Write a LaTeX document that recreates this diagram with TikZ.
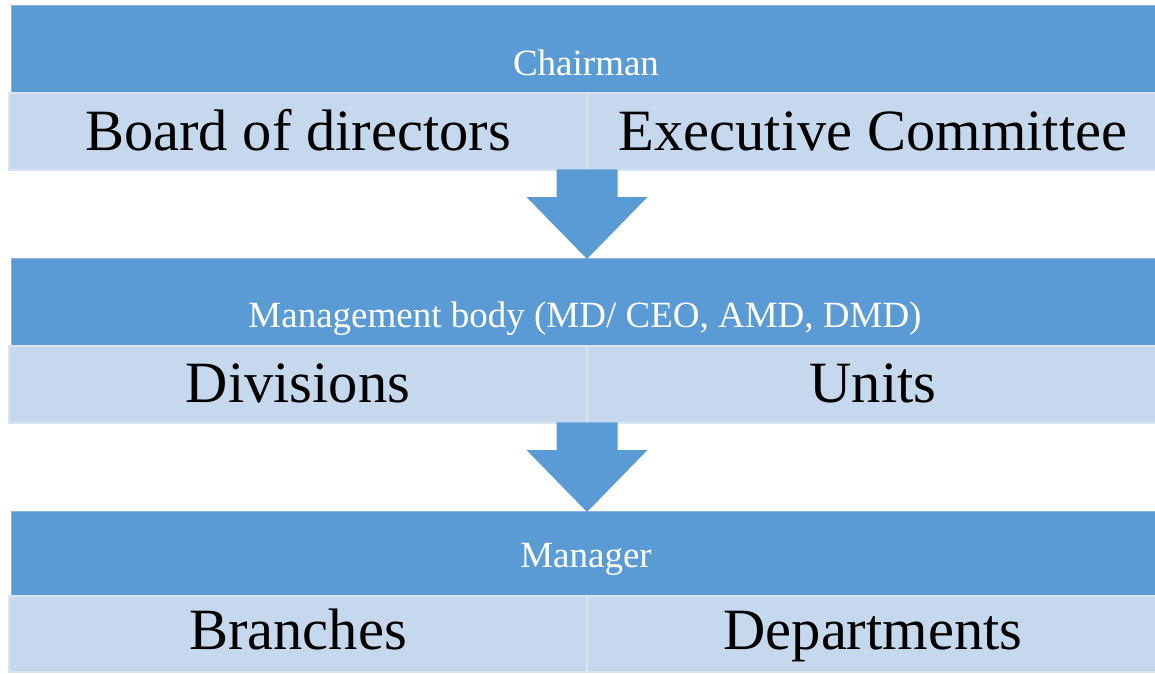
\documentclass[tikz,border=0pt]{standalone}
\usepackage{fontspec}
\setmainfont{Liberation Serif}
\definecolor{bandblue}{HTML}{5B9BD5}
\definecolor{cellblue}{HTML}{C5D8ED}
\definecolor{celledge}{HTML}{D9E4F2}
\begin{document}
\begin{tikzpicture}[x=1pt,y=-1pt,
  band/.style={fill=bandblue,draw=bandblue!75!white,line width=0.8pt},
  cell/.style={fill=cellblue,draw=celledge,line width=1.5pt},
  bandtext/.style={anchor=base,text=white,font=\fontsize{37}{42}\selectfont,inner sep=0pt},
  celltext/.style={anchor=base,text=black,font=\fontsize{58.5}{64}\selectfont,inner sep=0pt},
  blockarrow/.style={fill=bandblue}]
\useasboundingbox (0,0) rectangle (1155,673);

% level 1
\path[band] (11,5) rectangle (1160,93);
\path[cell] (9,93) rectangle (587,170);
\path[cell] (587,93) rectangle (1160,170);
\coordinate (c1) at (587,170);
\node[bandtext] (chair) at (586,75) {Chairman};
\node[celltext] (board) at (298,150) {Board of directors};
\node[celltext] (exec) at (873,150) {Executive Committee};

% level 2
\path[band] (11,258) rectangle (1160,346);
\coordinate (t2) at (587,258);
\path[cell] (9,346) rectangle (587,423);
\path[cell] (587,346) rectangle (1160,423);
\coordinate (c2) at (587,423);
\node[bandtext] (mgmt) at (585,327) {Management body (MD/ CEO, AMD, DMD)};
\node[celltext] (div) at (298,402) {Divisions};
\node[celltext] (units) at (873,402) {Units};

% level 3
\path[band] (11,511) rectangle (1160,596);
\coordinate (t3) at (587,511);
\path[cell] (9,596) rectangle (587,672);
\path[cell] (587,596) rectangle (1160,672);
\node[bandtext] (mgr) at (586,567) {Manager};
\node[celltext] (branch) at (298,649) {Branches};
\node[celltext] (dept) at (873,649) {Departments};

% block arrows between the levels
\fill[blockarrow] ([xshift=-30.5pt,yshift=0.7pt]c1) -- ([xshift=30.5pt,yshift=0.7pt]c1)
  -- ([xshift=30.5pt,yshift=-27pt]c1) -- ([xshift=60.5pt,yshift=-27pt]c1)
  -- ([yshift=-1pt]t2) -- ([xshift=-60.5pt,yshift=-27pt]c1)
  -- ([xshift=-30.5pt,yshift=-27pt]c1) -- cycle;
\fill[blockarrow] ([xshift=-30.5pt,yshift=0.7pt]c2) -- ([xshift=30.5pt,yshift=0.7pt]c2)
  -- ([xshift=30.5pt,yshift=-27pt]c2) -- ([xshift=60.5pt,yshift=-27pt]c2)
  -- ([yshift=-1pt]t3) -- ([xshift=-60.5pt,yshift=-27pt]c2)
  -- ([xshift=-30.5pt,yshift=-27pt]c2) -- cycle;
\end{tikzpicture}
\end{document}
